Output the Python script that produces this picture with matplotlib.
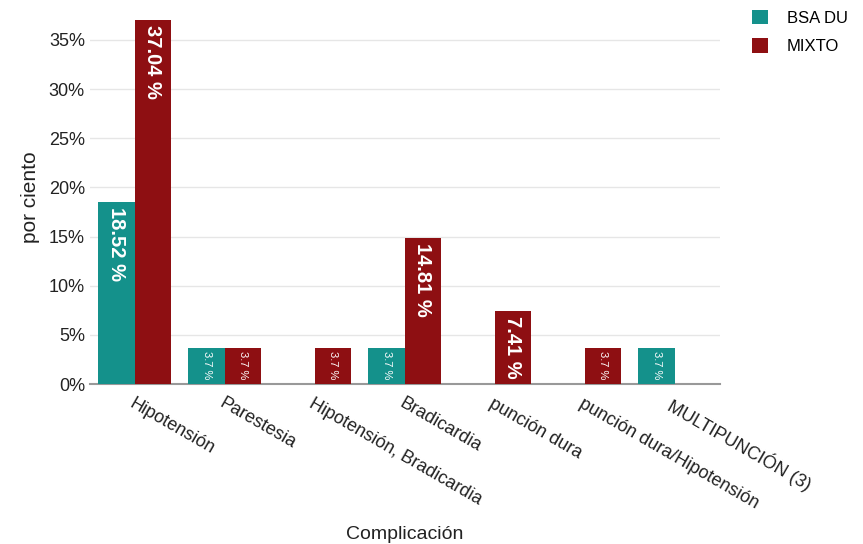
import numpy as np
import matplotlib.pyplot as plt

plt.rcParams['font.family'] = ['Liberation Sans', 'DejaVu Sans']

categorias = ['Hipotensión', 'Parestesia', 'Hipotensión, Bradicardia', 'Bradicardia',
              'punción dura', 'punción dura/Hipotensión', 'MULTIPUNCIÓN (3)']
bsa_du = [18.52, 3.7, 0, 3.7, 0, 0, 3.7]
mixto = [37.04, 3.7, 3.7, 14.81, 7.41, 3.7, 0]

c_bsa = '#14918b'
c_mix = '#8e0f12'

fig = plt.figure(figsize=(8.63, 5.44), dpi=100)
ax = fig.add_axes([0.104, 0.294, 0.73, 0.687])

x = np.arange(len(categorias))
w = 0.405
b1 = ax.bar(x - w / 2, bsa_du, w, color=c_bsa, label='BSA DU', zorder=3)
b2 = ax.bar(x + w / 2, mixto, w, color=c_mix, label='MIXTO', zorder=3)

for bars, vals in [(b1, bsa_du), (b2, mixto)]:
    for r, v in zip(bars, vals):
        if v <= 0:
            continue
        txt = ('%.2f' % v).rstrip('0').rstrip('.') + ' %'
        if v < 5:
            ax.text(r.get_x() + r.get_width() / 2, v - 0.3, txt, rotation=-90,
                    ha='center', va='top', color='white', fontsize=8, zorder=4)
        else:
            ax.text(r.get_x() + r.get_width() / 2, v - 0.5, txt, rotation=-90,
                    ha='center', va='top', color='white', fontsize=14.5,
                    fontweight='bold', zorder=4)

ax.set_xlim(-0.5, 6.5)
ax.set_ylim(0, 38)
ax.set_yticks(range(0, 40, 5))
ax.set_yticklabels(['%d%%' % t for t in range(0, 40, 5)])
ax.set_xticks(x)
ax.set_xticklabels(categorias, rotation=-30, ha='left', rotation_mode='anchor')
ax.tick_params(axis='both', length=0, labelsize=13, colors='#222222')
ax.tick_params(axis='x', pad=8)
ax.grid(axis='y', color='#e6e6e6', linewidth=1, zorder=0)
for s in ['top', 'right', 'left']:
    ax.spines[s].set_visible(False)
ax.spines['bottom'].set_color('#999999')
ax.spines['bottom'].set_linewidth(1.5)

ax.set_ylabel('por ciento', fontsize=15, color='#222222', labelpad=6)
ax.set_xlabel('Complicación', fontsize=14, color='#222222', labelpad=10)

ax.legend(loc='upper left', bbox_to_anchor=(1.04, 1.02), frameon=False,
          borderaxespad=0, fontsize=12, handlelength=1.0, handleheight=1.0,
          handletextpad=1.1, labelspacing=0.75)

fig.savefig('out.png', dpi=100)
